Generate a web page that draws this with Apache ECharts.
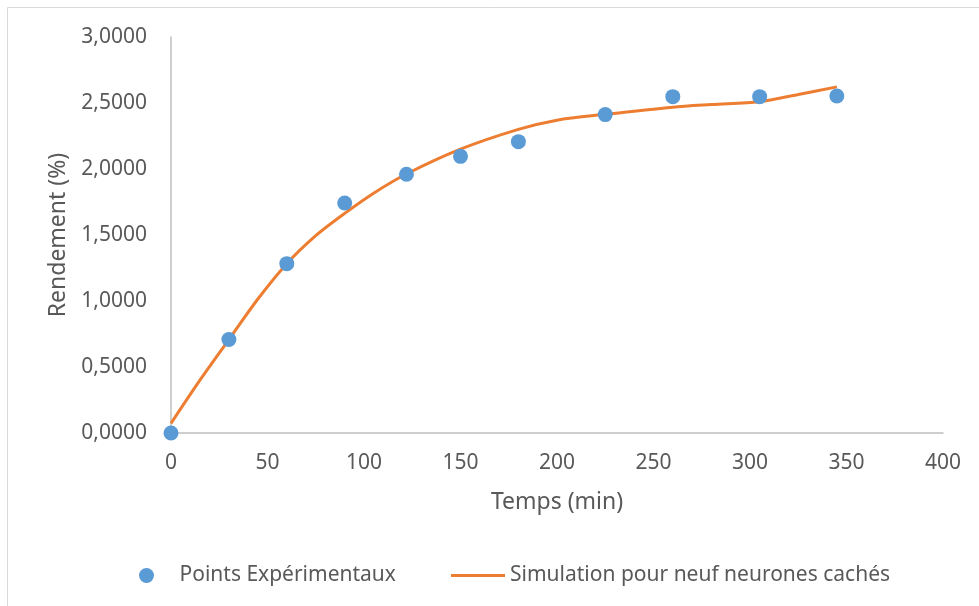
<!DOCTYPE html>
<html>
<head>
<meta charset="utf-8">
<script src="https://cdn.jsdelivr.net/npm/echarts@6/dist/echarts.min.js"></script>
<style>html,body{margin:0;padding:0;background:#fff}#c{width:979px;height:606px}</style>
</head>
<body>
<div id="c"></div>
<script>
// Experimental points: time (min), yield (%)
const expTime = [0, 30, 60, 90, 122, 150, 180, 225, 260, 305, 345];
const expYield = [0.000, 0.708, 1.283, 1.742, 1.960, 2.096, 2.207, 2.412, 2.548, 2.548, 2.553];
// Simulation (nine hidden neurons)
const simTime = [0, 15, 30, 45, 60, 75, 90, 105, 122, 150, 180, 200, 225, 260, 280, 305, 325, 345];
const simYield = [0.073, 0.400, 0.708, 1.015, 1.283, 1.495, 1.664, 1.817, 1.962, 2.150, 2.300, 2.370, 2.414, 2.468, 2.488, 2.510, 2.565, 2.622];
const xTicks = [0, 400, 50];
const yTicks = [0, 3, 0.5];

const FONT = 'Noto Sans';
const TXT = '#595959';
const chart = echarts.init(document.getElementById('c'), null, {renderer: 'canvas'});
chart.setOption({
  animation: false,
  backgroundColor: '#fff',
  textStyle: {fontFamily: FONT},
  graphic: [{type: 'rect', shape: {x: 7.5, y: 7.5, width: 1000, height: 700}, style: {fill: 'none', stroke: '#D9D9D9', lineWidth: 1}, z: -1}],
  grid: {left: 171, right: 36, top: 37, bottom: 173, containLabel: false},
  xAxis: {
    type: 'value', min: xTicks[0], max: xTicks[1], interval: xTicks[2],
    name: 'Temps (min)', nameLocation: 'middle', nameGap: 58,
    nameTextStyle: {color: TXT, fontSize: 23, fontFamily: FONT},
    axisLine: {show: true, lineStyle: {color: '#BFBFBF', width: 1.5}},
    axisTick: {show: false},
    splitLine: {show: false},
    axisLabel: {color: TXT, fontSize: 21, fontFamily: FONT, margin: 20}
  },
  yAxis: {
    type: 'value', min: yTicks[0], max: yTicks[1], interval: yTicks[2],
    name: 'Rendement (%)', nameLocation: 'middle', nameGap: 98,
    nameTextStyle: {color: TXT, fontSize: 23, fontFamily: FONT},
    axisLine: {show: true, lineStyle: {color: '#BFBFBF', width: 1.5}},
    axisTick: {show: false},
    splitLine: {show: false},
    axisLabel: {color: TXT, fontSize: 21, fontFamily: FONT, margin: 24,
      formatter: v => v.toFixed(4).replace('.', ',')}
  },
  legend: [
    {data: [{name: 'Points Expérimentaux', icon: 'circle'}], left: 134, top: 560, itemWidth: 56, itemHeight: 15,
     textStyle: {color: TXT, fontSize: 21, fontFamily: FONT}},
    {data: [{name: 'Simulation pour neuf neurones cachés', icon: 'rect'}], left: 446, top: 560, itemWidth: 54, itemHeight: 3,
     textStyle: {color: TXT, fontSize: 21, fontFamily: FONT}}
  ],
  series: [
    {
      name: 'Simulation pour neuf neurones cachés', type: 'line', smooth: 0.3,
      data: simTime.map((t, i) => [t, simYield[i]]),
      showSymbol: false, symbol: 'none',
      lineStyle: {color: '#ED7D31', width: 3},
      itemStyle: {color: '#ED7D31'}, z: 2
    },
    {
      name: 'Points Expérimentaux', type: 'scatter', symbolSize: 15,
      data: expTime.map((t, i) => [t, expYield[i]]),
      itemStyle: {color: '#5B9BD5', opacity: 1}, z: 3
    }
  ]
});
</script>
</body>
</html>
